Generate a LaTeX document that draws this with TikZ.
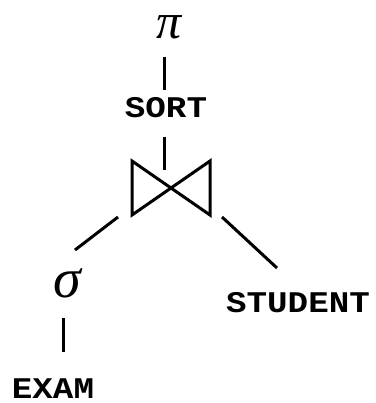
\documentclass[tikz,border=0pt]{standalone}
\usepackage{fontspec}
\usepackage{graphicx}
\newfontfamily\grfont{Liberation Serif}
\newfontfamily\relfont{Liberation Mono}
\begin{document}
\begin{tikzpicture}[x=1pt,y=-1pt,line width=3pt,
  rel/.style={inner sep=0pt,anchor=base},
  op/.style={inner sep=0pt,font=\grfont\itshape\fontsize{50}{50}\selectfont}]
\newcommand\reltext[1]{\scalebox{1.14}[1]{\relfont\bfseries\fontsize{30}{30}\selectfont #1}}
\useasboundingbox (0,0) rectangle (375,403);
\node[op] (pi) at (169,27) {π};
\node[rel] (sort) at (166,118) {\reltext{SORT}};
\coordinate (sortTop) at (164,57);
\coordinate (sortTopEnd) at (164,90);
\coordinate (sortBot) at (164,137);
\coordinate (joinTop) at (164,170);
\draw (sortTop) -- (sortTopEnd);
\draw (sortBot) -- (joinTop);
% join (bowtie)
\coordinate (j1) at (132,161);
\coordinate (j2) at (210,215);
\coordinate (j3) at (210,161);
\coordinate (j4) at (132,215);
\draw[line join=miter] (j1) -- (j2) -- (j3) -- (j4) -- cycle;
\node[op,font=\grfont\itshape\fontsize{56}{56}\selectfont] (sigma) at (67,283) {σ};
\node[rel] (student) at (298,312) {\reltext{STUDENT}};
\node[rel] (exam) at (53,398) {\reltext{EXAM}};
\coordinate (l1) at (118,217);
\coordinate (l2) at (75,250);
\coordinate (r1) at (222,217);
\coordinate (r2) at (277,268);
\draw (l1) -- (l2);
\draw (r1) -- (r2);
\coordinate (e1) at (63,318);
\coordinate (e2) at (63,352);
\draw (e1) -- (e2);
\end{tikzpicture}
\end{document}
